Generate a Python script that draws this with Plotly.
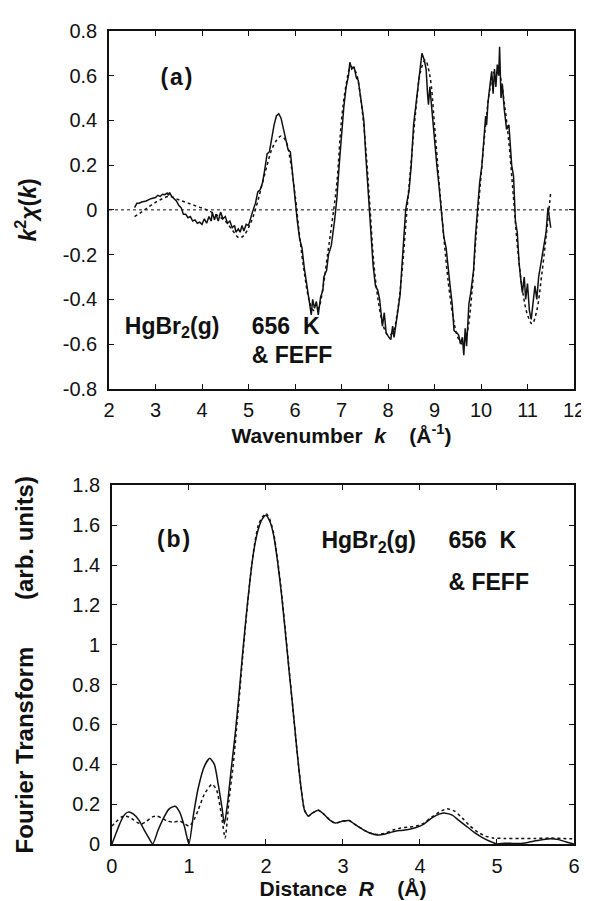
import plotly.graph_objects as go

# ---------------- Panel (a): k^2 chi(k) ----------------
k_exp = [2.55, 2.6, 2.65, 2.7, 2.8, 2.9, 3.0, 3.05, 3.1, 3.15, 3.2, 3.25, 3.28, 3.3, 3.35, 3.4, 3.45, 3.5,
         3.55, 3.6, 3.65, 3.7, 3.75, 3.8, 3.85, 3.9, 3.95, 4.0, 4.05, 4.1, 4.15, 4.2, 4.22, 4.27, 4.3, 4.35,
         4.4, 4.45, 4.5, 4.55, 4.6, 4.65, 4.7, 4.73, 4.78, 4.82, 4.86, 4.9, 4.95, 5.0, 5.05, 5.1, 5.15, 5.2,
         5.25, 5.3, 5.35, 5.4, 5.45, 5.5, 5.55, 5.6, 5.65, 5.7, 5.75, 5.8, 5.85, 5.9, 5.95, 6.0, 6.05, 6.1,
         6.15, 6.2, 6.25, 6.3, 6.35, 6.38, 6.42, 6.46, 6.5, 6.55, 6.6, 6.62, 6.68, 6.72, 6.78, 6.85, 6.9,
         6.95, 7.0, 7.05, 7.1, 7.15, 7.18, 7.22, 7.27, 7.32, 7.36, 7.42, 7.48, 7.52, 7.58, 7.62, 7.68, 7.73,
         7.78, 7.82, 7.88, 7.92, 7.96, 8.02, 8.06, 8.1, 8.13, 8.2, 8.26, 8.3, 8.34, 8.38, 8.42, 8.45, 8.5,
         8.55, 8.6, 8.65, 8.7, 8.73, 8.78, 8.82, 8.85, 8.87, 8.9, 8.95, 9.0, 9.05, 9.1, 9.15, 9.2, 9.25,
         9.3, 9.33, 9.38, 9.42, 9.48, 9.52, 9.56, 9.6, 9.63, 9.66, 9.69, 9.74, 9.78, 9.84, 9.88, 9.92, 9.97,
         10.02, 10.06, 10.1, 10.12, 10.15, 10.2, 10.23, 10.26, 10.29, 10.32, 10.35, 10.38, 10.4, 10.43,
         10.46, 10.5, 10.55, 10.6, 10.62, 10.66, 10.7, 10.74, 10.78, 10.82, 10.86, 10.89, 10.93, 10.96,
         11.0, 11.04, 11.08, 11.12, 11.16, 11.2, 11.24, 11.28, 11.32, 11.36, 11.4, 11.44, 11.47, 11.5]
chi_exp = [0.01, 0.03, 0.03, 0.035, 0.04, 0.05, 0.055, 0.065, 0.06, 0.07, 0.068, 0.075, 0.065, 0.078, 0.06,
           0.05, 0.04, 0.02, 0.01, -0.02, -0.02, -0.035, -0.03, -0.05, -0.045, -0.06, -0.055, -0.065, -0.04,
           -0.06, -0.03, -0.05, -0.01, -0.045, -0.02, -0.05, -0.01, -0.04, -0.03, -0.06, -0.05, -0.08, -0.07,
           -0.1, -0.085, -0.1, -0.07, -0.095, -0.065, -0.07, -0.03, 0.0, 0.03, 0.08, 0.09, 0.12, 0.18, 0.25,
           0.26, 0.32, 0.38, 0.42, 0.43, 0.41, 0.36, 0.32, 0.27, 0.26, 0.15, 0.05, -0.05, -0.13, -0.17, -0.26,
           -0.33, -0.39, -0.47, -0.4, -0.44, -0.41, -0.47, -0.39, -0.36, -0.3, -0.27, -0.2, -0.16, -0.05, 0.05,
           0.2, 0.35, 0.46, 0.55, 0.6, 0.66, 0.63, 0.64, 0.59, 0.58, 0.5, 0.4, 0.25, 0.05, -0.1, -0.25, -0.34,
           -0.36, -0.4, -0.52, -0.46, -0.55, -0.57, -0.58, -0.52, -0.57, -0.47, -0.38, -0.25, -0.1, 0.0, 0.05,
           0.08, 0.2, 0.38, 0.47, 0.55, 0.65, 0.7, 0.67, 0.63, 0.52, 0.47, 0.55, 0.42, 0.33, 0.2, 0.1, 0.0,
           -0.12, -0.17, -0.28, -0.33, -0.42, -0.54, -0.55, -0.56, -0.6, -0.57, -0.65, -0.53, -0.61, -0.42,
           -0.37, -0.27, -0.12, 0.0, 0.12, 0.2, 0.33, 0.42, 0.38, 0.48, 0.57, 0.62, 0.52, 0.63, 0.55, 0.65,
           0.6, 0.73, 0.5, 0.56, 0.45, 0.36, 0.38, 0.3, 0.2, 0.15, -0.05, -0.1, -0.24, -0.32, -0.37, -0.3,
           -0.4, -0.33, -0.45, -0.49, -0.4, -0.34, -0.4, -0.3, -0.25, -0.2, -0.16, -0.1, 0.01, -0.04, -0.08]

k_feff = [2.55, 2.7, 2.9, 3.1, 3.3, 3.5, 3.7, 3.9, 4.1, 4.3, 4.5, 4.65, 4.8, 4.9, 5.0, 5.1, 5.2, 5.3, 5.4,
          5.5, 5.6, 5.7, 5.8, 5.9, 6.0, 6.1, 6.2, 6.3, 6.4, 6.5, 6.6, 6.7, 6.8, 6.9, 7.0, 7.1, 7.2, 7.3, 7.4,
          7.5, 7.6, 7.7, 7.8, 7.9, 8.0, 8.1, 8.2, 8.3, 8.4, 8.5, 8.6, 8.7, 8.8, 8.9, 9.0, 9.1, 9.2, 9.3, 9.4,
          9.5, 9.6, 9.7, 9.8, 9.9, 10.0, 10.1, 10.2, 10.3, 10.4, 10.5, 10.6, 10.7, 10.8, 10.9, 11.0, 11.1,
          11.2, 11.3, 11.4, 11.5]
chi_feff = [-0.03, -0.01, 0.02, 0.045, 0.06, 0.045, 0.03, 0.015, 0.0, -0.02, -0.05, -0.09, -0.125, -0.115,
            -0.08, -0.03, 0.04, 0.12, 0.2, 0.27, 0.31, 0.33, 0.31, 0.22, 0.07, -0.12, -0.28, -0.4, -0.45,
            -0.44, -0.35, -0.2, -0.05, 0.12, 0.4, 0.56, 0.64, 0.62, 0.52, 0.33, 0.05, -0.25, -0.42, -0.52,
            -0.56, -0.55, -0.46, -0.28, -0.02, 0.22, 0.45, 0.62, 0.67, 0.6, 0.38, 0.12, -0.12, -0.33, -0.48,
            -0.57, -0.6, -0.55, -0.38, -0.1, 0.15, 0.38, 0.55, 0.62, 0.6, 0.48, 0.3, 0.05, -0.2, -0.37, -0.47,
            -0.51, -0.45, -0.3, -0.12, 0.08]

# ---------------- Panel (b): Fourier transform ----------------
r_exp = [0.0, 0.05, 0.1, 0.15, 0.21, 0.28, 0.35, 0.42, 0.48, 0.53, 0.6, 0.67, 0.74, 0.82, 0.88, 0.94, 1.0,
         1.06, 1.12, 1.2, 1.27, 1.33, 1.38, 1.43, 1.46, 1.5, 1.55, 1.6, 1.65, 1.7, 1.75, 1.8, 1.85, 1.9,
         1.95, 2.0, 2.05, 2.1, 2.15, 2.2, 2.25, 2.3, 2.35, 2.4, 2.45, 2.5, 2.55, 2.6, 2.68, 2.75, 2.83, 2.9,
         3.0, 3.08, 3.15, 3.25, 3.35, 3.45, 3.55, 3.65, 3.75, 3.85, 3.95, 4.05, 4.15, 4.25, 4.33, 4.42, 4.5,
         4.6, 4.7, 4.8, 4.9, 5.0, 5.1, 5.2, 5.3, 5.4, 5.5, 5.6, 5.7, 5.8, 5.9, 6.0]
ft_exp = [0.0, 0.05, 0.1, 0.14, 0.16, 0.15, 0.12, 0.07, 0.03, 0.0, 0.07, 0.13, 0.175, 0.19, 0.16, 0.09, 0.0,
          0.15, 0.28, 0.39, 0.43, 0.4, 0.3, 0.18, 0.1, 0.2, 0.38, 0.55, 0.75, 0.97, 1.17, 1.35, 1.49, 1.58,
          1.63, 1.65, 1.62, 1.55, 1.42, 1.26, 1.07, 0.87, 0.68, 0.48, 0.3, 0.17, 0.14, 0.155, 0.17, 0.15,
          0.12, 0.105, 0.115, 0.118, 0.1, 0.075, 0.055, 0.045, 0.05, 0.062, 0.068, 0.073, 0.083, 0.1, 0.13,
          0.15, 0.155, 0.145, 0.12, 0.09, 0.06, 0.035, 0.015, 0.0, 0.004, 0.003, 0.002, 0.008, 0.016, 0.023,
          0.027, 0.022, 0.01, 0.0]

r_feff = [0.0, 0.05, 0.12, 0.18, 0.25, 0.32, 0.38, 0.45, 0.52, 0.58, 0.65, 0.72, 0.8, 0.88, 0.95, 1.0, 1.05,
          1.12, 1.2, 1.3, 1.36, 1.42, 1.47, 1.52, 1.57, 1.6, 1.65, 1.7, 1.75, 1.8, 1.85, 1.9, 1.95, 2.0,
          2.05, 2.1, 2.15, 2.2, 2.25, 2.3, 2.35, 2.4, 2.45, 2.5, 2.55, 2.6, 2.68, 2.75, 2.83, 2.9, 3.0, 3.08,
          3.15, 3.25, 3.35, 3.45, 3.55, 3.65, 3.75, 3.85, 3.95, 4.05, 4.15, 4.25, 4.35, 4.45, 4.55, 4.65,
          4.75, 4.85, 4.95, 5.1, 5.3, 5.5, 5.7, 5.9, 6.0]
ft_feff = [0.09, 0.11, 0.135, 0.14, 0.13, 0.11, 0.1, 0.115, 0.135, 0.14, 0.13, 0.115, 0.11, 0.115, 0.1,
           0.09, 0.11, 0.17, 0.25, 0.3, 0.27, 0.15, 0.03, 0.22, 0.38, 0.5, 0.72, 0.95, 1.16, 1.35, 1.5, 1.6,
           1.64, 1.66, 1.63, 1.56, 1.43, 1.27, 1.08, 0.88, 0.68, 0.48, 0.3, 0.17, 0.14, 0.155, 0.17, 0.15,
           0.12, 0.105, 0.115, 0.118, 0.1, 0.075, 0.055, 0.048, 0.055, 0.07, 0.08, 0.085, 0.09, 0.105, 0.135,
           0.16, 0.177, 0.165, 0.13, 0.09, 0.06, 0.04, 0.03, 0.028, 0.027, 0.028, 0.03, 0.027, 0.027]

# Tick labels
x1_ticks = [2, 3, 4, 5, 6, 7, 8, 9, 10, 11, 12]
y1_ticks = [-0.8, -0.6, -0.4, -0.2, 0, 0.2, 0.4, 0.6, 0.8]
y1_labels = ["-0.8", "-0.6", "-0.4", "-0.2", "0", "0.2", "0.4", "0.6", "0.8"]
x2_ticks = [0, 1, 2, 3, 4, 5, 6]
y2_ticks = [0, 0.2, 0.4, 0.6, 0.8, 1.0, 1.2, 1.4, 1.6, 1.8]
y2_labels = ["0", "0.2", "0.4", "0.6", "0.8", "1", "1.2", "1.4", "1.6", "1.8"]

# In-plot labels
NB = "\u00a0"
label_a_x = [3.45]
label_a_y = [0.586]
label_a_text = ["(\u200aa\u200a)"]
info_a_x = [2.34, 5.07, 5.07]
info_a_y = [-0.528, -0.528, -0.657]
info_a_text = ["HgBr<sub>2</sub>(g)", "656" + NB + NB + "K", "&" + NB + "FEFF"]
label_b_x = [0.80]
label_b_y = [1.52]
label_b_text = ["(\u200ab\u200a)"]
info_b_x = [2.72, 4.37, 4.37]
info_b_y = [1.515, 1.515, 1.305]
info_b_text = ["HgBr<sub>2</sub>(g)", "656" + NB + NB + "K", "&" + NB + "FEFF"]

FONT = "Liberation Sans, Arial, Helvetica, sans-serif"
BLACK = "#111111"

fig = go.Figure()
fig.add_trace(go.Scatter(x=k_exp, y=chi_exp, mode="lines", line=dict(color=BLACK, width=1.5),
                         xaxis="x", yaxis="y", showlegend=False))
fig.add_trace(go.Scatter(x=k_feff, y=chi_feff, mode="lines", line=dict(color=BLACK, width=1.5, dash="dot", shape="spline"),
                         xaxis="x", yaxis="y", showlegend=False))
fig.add_trace(go.Scatter(x=r_exp, y=ft_exp, mode="lines", line=dict(color=BLACK, width=1.5, shape="spline", smoothing=0.6),
                         xaxis="x2", yaxis="y2", showlegend=False))
fig.add_trace(go.Scatter(x=r_feff, y=ft_feff, mode="lines", line=dict(color=BLACK, width=1.5, dash="dot", shape="spline", smoothing=0.6),
                         xaxis="x2", yaxis="y2", showlegend=False))

LABELFONT = dict(family=FONT, size=23, color=BLACK, weight="bold")
for xs, ys, ts, pos, xa, ya in [
    (label_a_x, label_a_y, label_a_text, "middle center", "x", "y"),
    (info_a_x, info_a_y, info_a_text, "middle right", "x", "y"),
    (label_b_x, label_b_y, label_b_text, "middle center", "x2", "y2"),
    (info_b_x, info_b_y, info_b_text, "middle right", "x2", "y2"),
]:
    fig.add_trace(go.Scatter(x=xs, y=ys, text=ts, mode="text", textposition=pos, textfont=LABELFONT,
                             xaxis=xa, yaxis=ya, showlegend=False, hoverinfo="skip", cliponaxis=False))

# zero reference line in panel (a)
fig.add_shape(type="line", xref="x", yref="y", x0=2, x1=12, y0=0, y1=0,
              line=dict(color=BLACK, width=1, dash="dot"))

TICKFONT = dict(family=FONT, size=20, color=BLACK)
TITLEFONT = dict(family=FONT, size=21, color=BLACK, weight="bold")
TITLEFONT_Y = dict(family=FONT, size=23, color=BLACK, weight="bold")
TITLEFONT_Y2 = dict(family=FONT, size=24, color=BLACK, weight="bold")

axis_common = dict(showline=True, linecolor=BLACK, linewidth=1.5, mirror="ticks", ticks="inside",
                   ticklen=5, tickwidth=1.3, tickcolor=BLACK, showgrid=False, zeroline=False,
                   tickfont=TICKFONT)

fig.update_layout(
    width=589, height=901,
    margin=dict(l=101, r=13, t=20, b=65),
    paper_bgcolor="white", plot_bgcolor="white",
    font=dict(family=FONT, color=BLACK),
    xaxis=dict(domain=[0, 1], anchor="y", range=[2, 12], tickvals=x1_ticks, ticklabelstandoff=3, **axis_common,
               title=dict(text="Wavenumber" + NB + NB + "<i>k</i>" + NB * 4 + "(Å<sup>-1</sup>)",
                          font=TITLEFONT, standoff=2)),
    yaxis=dict(domain=[0.560, 1], anchor="x", range=[-0.8, 0.8], tickvals=y1_ticks, ticktext=y1_labels,
               ticklabelstandoff=6, **axis_common,
               title=dict(text="<i>k</i><sup>2</sup><i>χ</i>(<i>k</i>)",
                          font=TITLEFONT_Y, standoff=20)),
    xaxis2=dict(domain=[0.0063, 1], anchor="y2", range=[0, 6], tickvals=x2_ticks, ticklabelstandoff=3, **axis_common,
                title=dict(text="Distance" + NB + NB + "<i>R</i>" + NB * 4 + "(Å)",
                           font=TITLEFONT, standoff=0)),
    yaxis2=dict(domain=[0, 0.441], anchor="x2", range=[0, 1.8], tickvals=y2_ticks, ticktext=y2_labels,
                ticklabelstandoff=6, **axis_common,
                title=dict(text="Fourier" + NB + "Transform" + NB * 7 + "(arb." + NB + "units)",
                           font=TITLEFONT_Y2, standoff=32)),
)

fig.write_html("out.html")
